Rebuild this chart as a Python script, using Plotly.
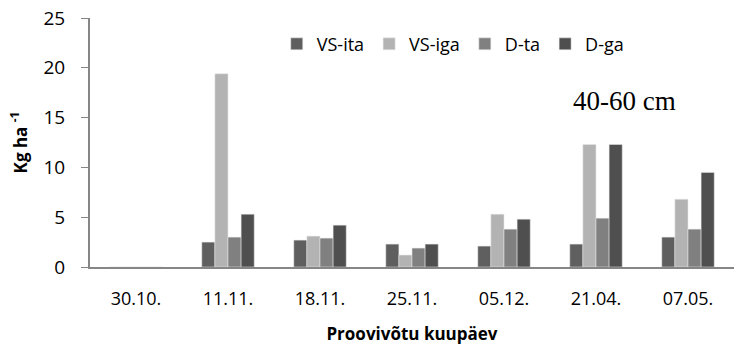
import plotly.graph_objects as go

categories = ["30.10.", "11.11.", "18.11.", "25.11.", "05.12.", "21.04.", "07.05."]
vs_ita = [0, 2.5, 2.7, 2.3, 2.1, 2.3, 3.0]
vs_iga = [0, 19.4, 3.1, 1.2, 5.3, 12.3, 6.8]
d_ta = [0, 3.0, 2.9, 1.9, 3.8, 4.9, 3.8]
d_ga = [0, 5.3, 4.2, 2.3, 4.8, 12.3, 9.5]

series = [("VS-ita", vs_ita, "#5f5f5f"), ("VS-iga", vs_iga, "#b3b3b3"),
          ("D-ta", d_ta, "#808080"), ("D-ga", d_ga, "#4f4f4f")]

fig = go.Figure()
for name, vals, col in series:
    fig.add_trace(go.Bar(x=categories, y=vals, name=name, marker_color=col,
                         marker_line_color="rgba(230,230,230,0.9)", marker_line_width=0.6))

font_sans = "Open Sans, Liberation Sans, sans-serif"
fig.update_layout(
    width=734, height=354,
    margin=dict(l=90, r=0, t=18, b=87),
    plot_bgcolor="white", paper_bgcolor="white",
    barmode="group", bargap=0.43, bargroupgap=0,
    font=dict(family=font_sans, color="#000000", size=17),
    showlegend=True,
    legend=dict(orientation="h", x=0.29, y=0.895, xanchor="left", yanchor="middle",
                font=dict(size=18, family=font_sans), itemwidth=30,
                bgcolor="rgba(0,0,0,0)", traceorder="normal"),
    xaxis=dict(showline=True, linecolor="#868686", linewidth=2, ticks="",
               tickfont=dict(size=18), showgrid=False, ticklabelstandoff=14,
               title=dict(text="<b>Proovivõtu kuupäev</b>", font=dict(size=17), standoff=20)),
    yaxis=dict(range=[0, 25], dtick=5, showline=True, linecolor="#868686", linewidth=2,
               ticks="outside", ticklen=7, tickcolor="#868686", showgrid=False,
               tickfont=dict(size=19), zeroline=False, ticklabelstandoff=12,
               title=dict(text="<b>Kg ha <sup>-1</sup></b>", font=dict(size=17), standoff=12)),
    annotations=[dict(text="40-60 cm", xref="paper", yref="paper", x=(624 - 90) / 644, y=(267 - 101) / 249,
                      xanchor="center", yanchor="middle",
                      showarrow=False, font=dict(family="Liberation Serif, serif", size=27, color="#000"))],
)
fig.write_html("out.html", config={"displayModeBar": False},
               post_script="document.body.style.margin='0';document.body.style.padding='0';")
